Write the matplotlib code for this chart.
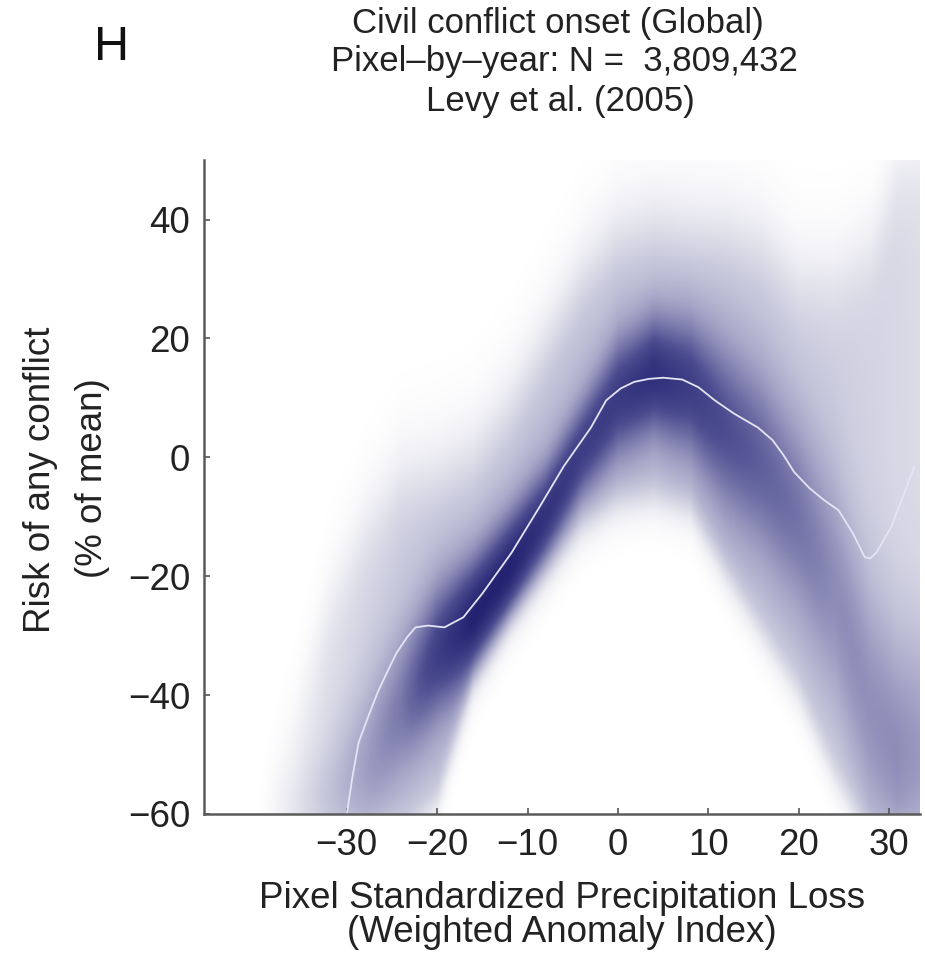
import numpy as np
import matplotlib
matplotlib.use("Agg")
import matplotlib.pyplot as plt
from matplotlib.colors import LinearSegmentedColormap

plt.rcParams['font.family'] = ['Liberation Sans', 'DejaVu Sans']

# mean regression line (white)
line_x = [-30, -29.4, -28.7, -27.6, -26.6, -25.5, -24.5, -23.3, -22.4, -21, -19.2, -17.1, -15,
          -11.8, -8.7, -6, -3, -1.3, 0.3, 1.8, 3.4, 5, 7.1, 8.9, 10.7, 12.8, 15.5, 17.1,
          18.3, 19.5, 21.2, 22.8, 24.4, 26, 27.3, 27.9, 28.6, 30.2, 31.8, 32.8]
line_y = [-60, -54, -48, -43.5, -39.6, -36, -32.9, -30.2, -28.6, -28.3, -28.6, -26.9, -22.9,
          -16.1, -8.4, -1.5, 5, 9.6, 11.6, 12.7, 13.2, 13.4, 13.1, 11.8, 9.6, 7.4, 5.0, 2.9,
          0.4, -2.5, -5.2, -7.2, -8.9, -12.8, -16.8, -17, -16.0, -11.8, -5.5, -1.5]

col_x     = [-40, -36, -32, -28, -24, -20, -16, -12, -8, -4, 0, 4, 8, 12, 16, 20, 24, 28, 31, 34]
band_hi   = [-60, -45, -25, -12, -4, -3, 0, 8, 19, 30, 37, 39, 38, 38, 36, 30, 30, 35, 48, 50]
band_lo   = [-65, -65, -65, -65, -65, -58, -38, -28, -20, -12, -8, -7, -9, -20, -30, -40, -54, -65, -65, -65]
band_amp  = [0, 0.08, 0.16, 0.2, 0.24, 0.28, 0.3, 0.3, 0.3, 0.3, 0.3, 0.3, 0.3, 0.28, 0.26, 0.24, 0.22, 0.2, 0.18, 0.16]
core_c    = [-60, -60, -58, -52, -42, -33, -27, -19, -10, 1, 10, 14, 12, 5, -1, -10, -22, -42, -50, -50]
core_sd   = [6, 6, 8, 10, 9, 8, 7, 6.5, 6, 6, 7, 7, 8, 10, 11, 12, 14, 15, 15, 15]
core_amp  = [0, 0.05, 0.13, 0.25, 0.4, 0.7, 0.95, 0.95, 0.8, 0.7, 0.72, 0.82, 0.7, 0.58, 0.5, 0.42, 0.32, 0.32, 0.35, 0.3]

xmin, xmax, ymin, ymax = -45.8, 33.4, -60, 50

fig = plt.figure(figsize=(9.25, 9.65), dpi=100)
ax = fig.add_axes([0.2205, 0.1565, 0.774, 0.6775])

gx = np.linspace(xmin, xmax, 500)
gy = np.linspace(ymin, ymax, 600)
X, Y = np.meshgrid(gx, gy)
hi = np.interp(gx, col_x, band_hi)
lo = np.interp(gx, col_x, band_lo)
ba = np.interp(gx, col_x, band_amp)
cc = np.interp(gx, col_x, core_c)
cs = np.interp(gx, col_x, core_sd)
ca = np.interp(gx, col_x, core_amp)

mask = 1 / (1 + np.exp(-(Y - lo) / 2.0)) * 1 / (1 + np.exp(-(hi - Y) / 4.5))
core = ca * np.exp(-0.5 * ((Y - cc) / cs) ** 2)
dens = mask * (1 - (1 - core) * (1 - ba))

cmap = LinearSegmentedColormap.from_list(
    'wc', [(0, '#ffffff'), (0.15, '#dfdfea'), (0.4, '#a0a0c4'), (0.7, '#4c4c90'), (1.0, '#1c1c6c')])
ax.imshow(dens, extent=[xmin, xmax, ymin, ymax], origin='lower', aspect='auto',
          cmap=cmap, vmin=0, vmax=1, interpolation='bilinear')

ax.plot(line_x, line_y, color='#e4e4f4', lw=1.3)

ax.set_xlim(xmin, xmax)
ax.set_ylim(ymin, ymax)
ax.set_xticks([-30, -20, -10, 0, 10, 20, 30])
ax.set_yticks([-60, -40, -20, 0, 20, 40])
for s in ['top', 'right']:
    ax.spines[s].set_visible(False)
for s in ['left', 'bottom']:
    ax.spines[s].set_color('#5a5a5a')
    ax.spines[s].set_linewidth(1.8)
ax.tick_params(direction='in', length=4, width=1.2, color='#555555',
               labelsize=26.5, labelcolor='#222222', pad=10)

fig.text(562 / 925, 1 - 899 / 965, 'Pixel Standardized Precipitation Loss', fontsize=26.5,
         color='#222222', ha='center', va='center')
fig.text(562 / 925, 1 - 933 / 965, '(Weighted Anomaly Index)', fontsize=26.5,
         color='#222222', ha='center', va='center')

fig.text(41 / 925, 1 - 480 / 965, 'Risk of any conflict', rotation=90, fontsize=26.5,
         color='#222222', ha='center', va='center')
fig.text(93 / 925, 1 - 478 / 965, '(% of mean)', rotation=90, fontsize=26.5,
         color='#222222', ha='center', va='center')

fig.text(112 / 925, 1 - 48 / 965, 'H', fontsize=35, ha='center', va='center', color='#111111')
fig.text(558 / 925, 1 - 24 / 965, 'Civil conflict onset (Global)', fontsize=25,
         ha='center', va='center', color='#222222')
fig.text(564 / 925, 1 - 62 / 965, 'Pixel\u2013by\u2013year: N =  3,809,432', fontsize=25,
         ha='center', va='center', color='#222222')
fig.text(560 / 925, 1 - 101 / 965, 'Levy et al. (2005)', fontsize=25,
         ha='center', va='center', color='#222222')

fig.savefig('out.png', dpi=100)
